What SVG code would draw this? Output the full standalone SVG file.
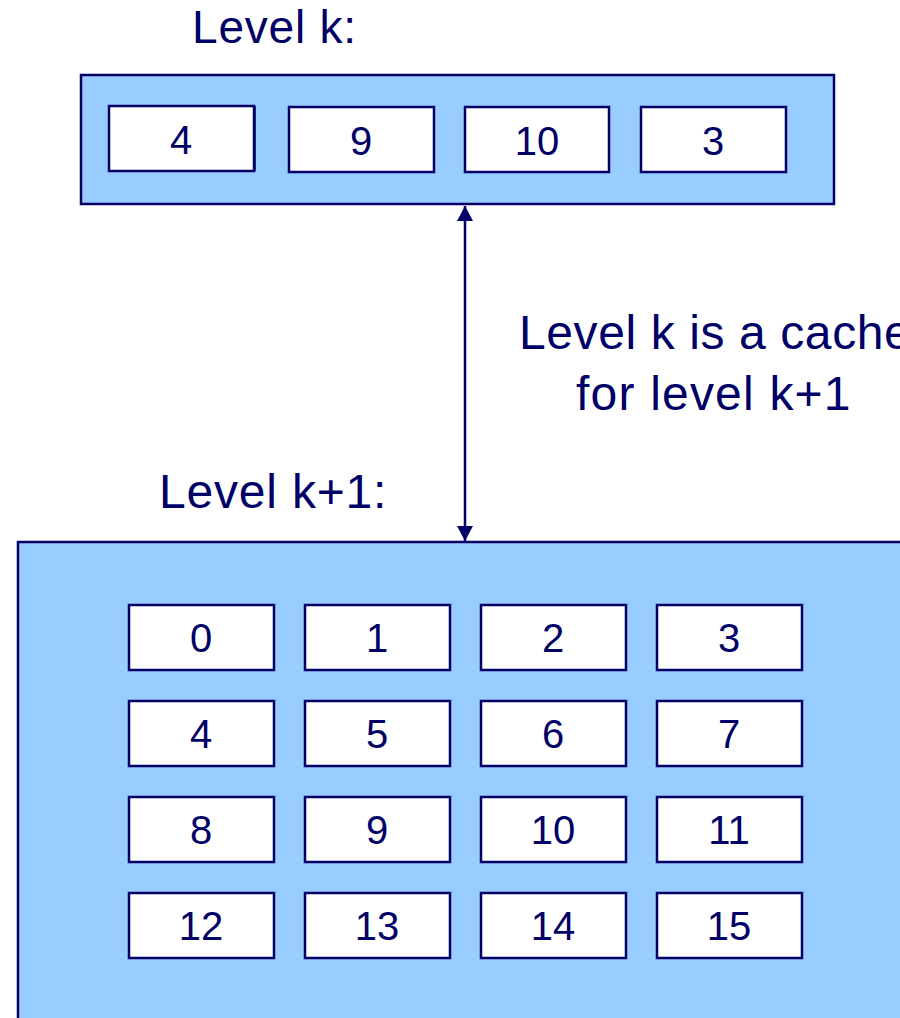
<svg xmlns="http://www.w3.org/2000/svg" width="900" height="1018" viewBox="0 0 900 1018">
<style>
.lvl{fill:#99ccff;stroke:#000066;stroke-width:2.5}
.blk{fill:#ffffff;stroke:#000066;stroke-width:2.5}
.t{font-family:"Liberation Sans",Arial,sans-serif;fill:#000066}
.n{font-size:40px;text-anchor:middle}
.conn{stroke:#000066;stroke-width:2.5;fill:none}
</style>
<defs>
<marker id="ah" viewBox="0 0 15 16" refX="15" refY="8" markerWidth="15" markerHeight="16" markerUnits="userSpaceOnUse" orient="auto-start-reverse">
<path d="M0,0 L15,8 L0,16 z" fill="#000066"/>
</marker>
</defs>
<rect width="900" height="1018" fill="#ffffff"/>

<g id="level-k">
<text class="t" x="192" y="43" font-size="46" letter-spacing="0.8">Level k:</text>
<rect class="lvl" x="81" y="75" width="753" height="129"/>
<g id="k-4"><rect class="blk" x="109" y="106" width="145" height="65"/><line x1="255" y1="106" x2="255" y2="171" stroke="#000066" stroke-width="1.5"/><text class="t n" x="181" y="154">4</text></g>
<g id="k-9"><rect class="blk" x="289" y="107" width="145" height="65"/><text class="t n" x="361" y="155">9</text></g>
<g id="k-10"><rect class="blk" x="465" y="107" width="144" height="65"/><text class="t n" x="537" y="155">10</text></g>
<g id="k-3"><rect class="blk" x="641" y="107" width="145" height="65"/><text class="t n" x="713" y="155">3</text></g>
</g>

<g id="level-k1">
<text class="t" x="159" y="508" font-size="48" letter-spacing="0.8">Level k+1:</text>
<rect class="lvl" x="18" y="542" width="900" height="500"/>
<g id="b0"><rect class="blk" x="129" y="605" width="145" height="65"/><text class="t n" x="201" y="652">0</text></g>
<g id="b1"><rect class="blk" x="305" y="605" width="145" height="65"/><text class="t n" x="377" y="652">1</text></g>
<g id="b2"><rect class="blk" x="481" y="605" width="145" height="65"/><text class="t n" x="553" y="652">2</text></g>
<g id="b3"><rect class="blk" x="657" y="605" width="145" height="65"/><text class="t n" x="729" y="652">3</text></g>
<g id="b4"><rect class="blk" x="129" y="701" width="145" height="65"/><text class="t n" x="201" y="748">4</text></g>
<g id="b5"><rect class="blk" x="305" y="701" width="145" height="65"/><text class="t n" x="377" y="748">5</text></g>
<g id="b6"><rect class="blk" x="481" y="701" width="145" height="65"/><text class="t n" x="553" y="748">6</text></g>
<g id="b7"><rect class="blk" x="657" y="701" width="145" height="65"/><text class="t n" x="729" y="748">7</text></g>
<g id="b8"><rect class="blk" x="129" y="797" width="145" height="65"/><text class="t n" x="201" y="844">8</text></g>
<g id="b9"><rect class="blk" x="305" y="797" width="145" height="65"/><text class="t n" x="377" y="844">9</text></g>
<g id="b10"><rect class="blk" x="481" y="797" width="145" height="65"/><text class="t n" x="553" y="844">10</text></g>
<g id="b11"><rect class="blk" x="657" y="797" width="145" height="65"/><text class="t n" x="729" y="844">11</text></g>
<g id="b12"><rect class="blk" x="129" y="893" width="145" height="65"/><text class="t n" x="201" y="940">12</text></g>
<g id="b13"><rect class="blk" x="305" y="893" width="145" height="65"/><text class="t n" x="377" y="940">13</text></g>
<g id="b14"><rect class="blk" x="481" y="893" width="145" height="65"/><text class="t n" x="553" y="940">14</text></g>
<g id="b15"><rect class="blk" x="657" y="893" width="145" height="65"/><text class="t n" x="729" y="940">15</text></g>
</g>

<g id="connectors">
<line class="conn" x1="465" y1="206" x2="465" y2="541" marker-start="url(#ah)" marker-end="url(#ah)"/>
</g>

<g id="label-cache">
<text class="t" font-size="48"><tspan x="519" y="349" letter-spacing="0.6">Level k is a cache</tspan><tspan x="576" y="410" letter-spacing="1.2">for level k+1</tspan></text>
</g>
</svg>
